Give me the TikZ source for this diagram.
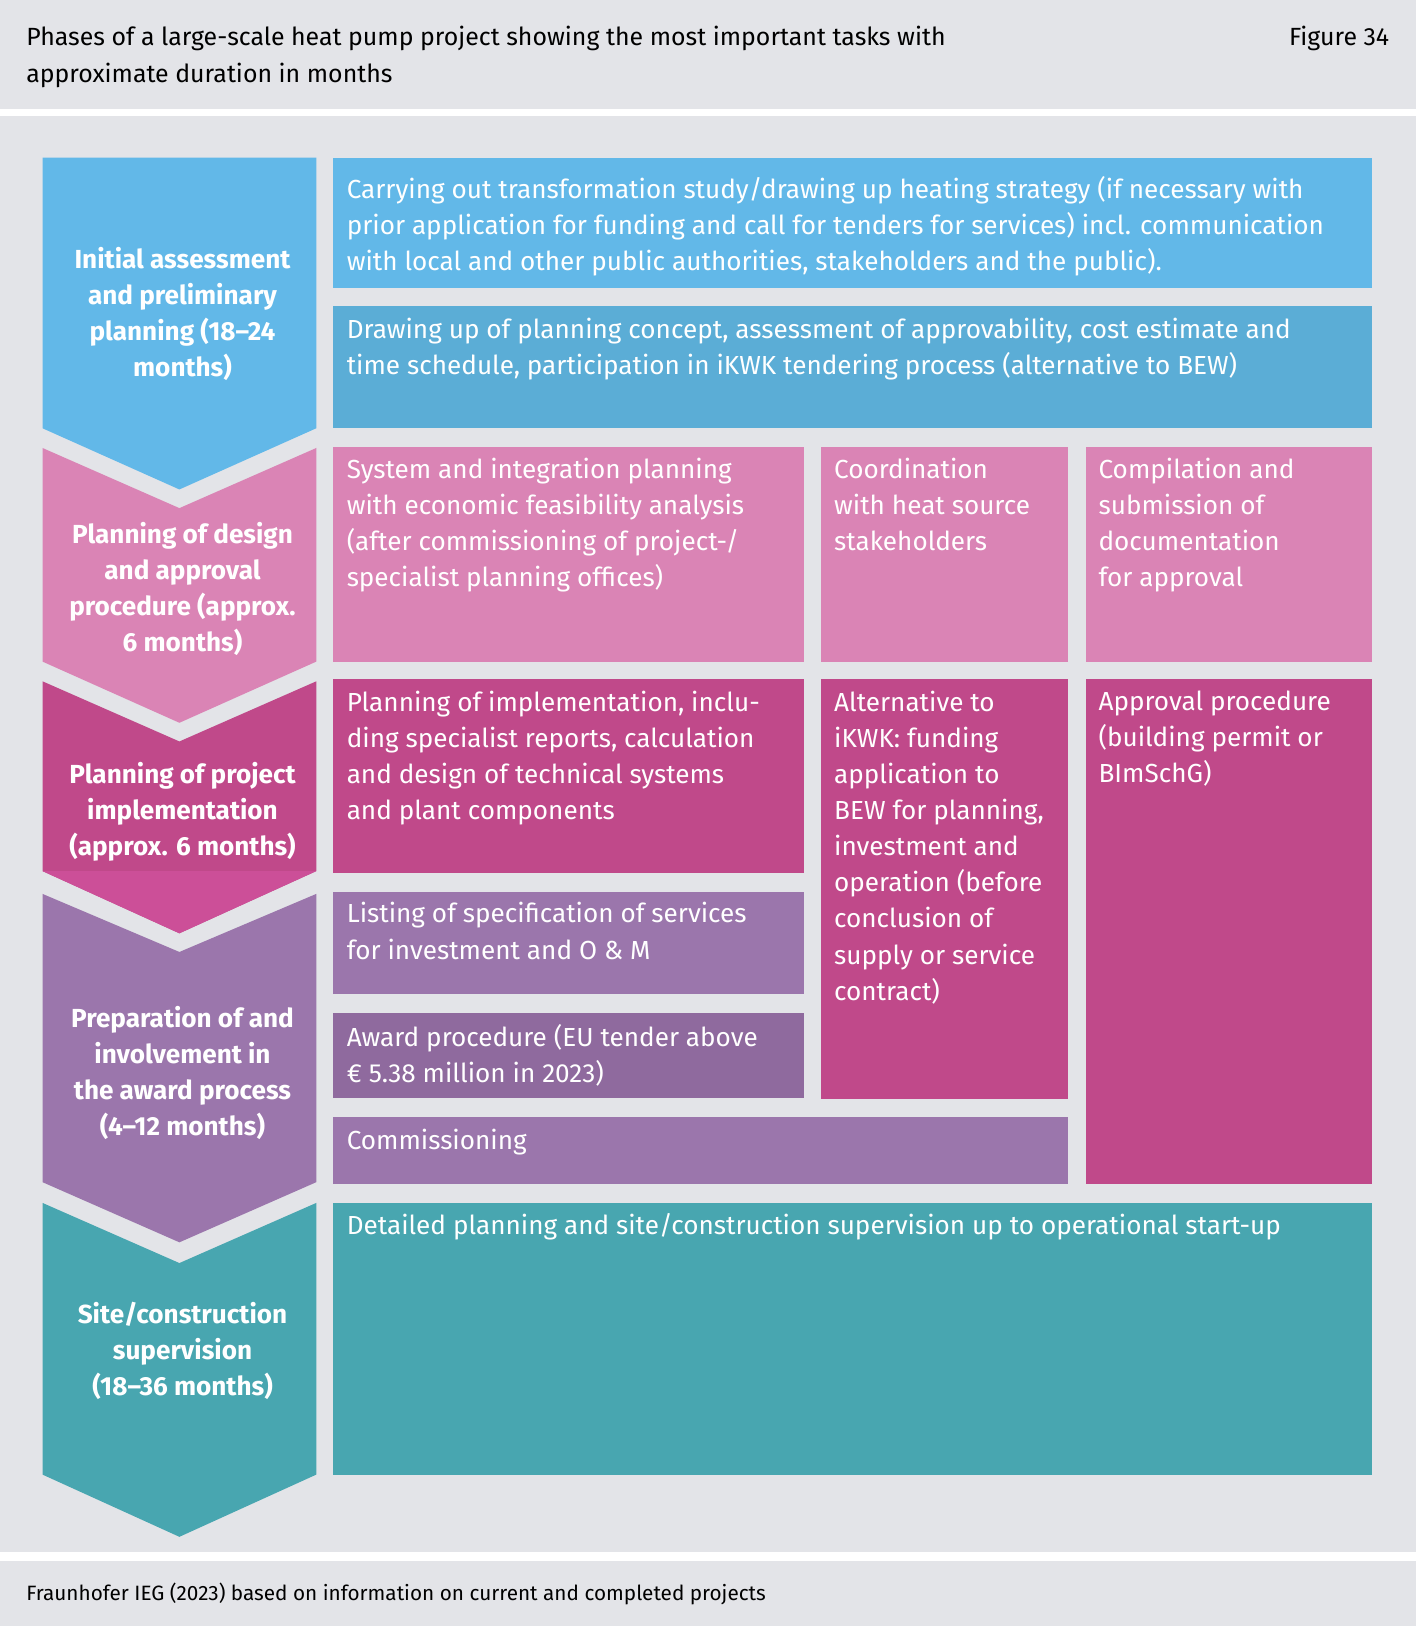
\documentclass[tikz,border=0pt]{standalone}
\usepackage{fontspec}
\setmainfont{Fira Sans}
\begin{document}
\begin{tikzpicture}[x=0.5pt,y=-0.5pt]
\definecolor{bg}{HTML}{E3E4E8}
\definecolor{cblue}{HTML}{62B8E8}\definecolor{cblueb}{HTML}{5BADD6}
\definecolor{cpink}{HTML}{DA84B5}\definecolor{cmag}{HTML}{C0498A}\definecolor{cmagt}{HTML}{CC4F98}
\definecolor{cpur}{HTML}{9B76AC}\definecolor{cpurd}{HTML}{8F6A9E}\definecolor{cteal}{HTML}{48A6B0}
\tikzset{tx/.style={anchor=north west,inner sep=0pt,text=white,align=left,font=\fontsize{12.6pt}{17.4pt}\selectfont},
ph/.style={text=white,align=center,font=\bfseries\fontsize{12.6pt}{17.4pt}\selectfont},
hd/.style={anchor=west,inner sep=0pt,font=\fontsize{12pt}{18pt}\selectfont}}
\useasboundingbox (0,0) rectangle (1365,1568);
\fill[bg] (0,0) rectangle (1365,1568);
\fill[white] (0,105) rectangle (1365,112);
\fill[white] (0,1497) rectangle (1365,1505);
\node[hd] (t1) at (25,37) {Phases of a large-scale heat pump project showing the most important tasks with};
\node[hd] (t2) at (25,73) {approximate duration in months};
\node[hd,anchor=east] (fig) at (1340,37) {Figure 34};
\node[hd,font=\fontsize{10pt}{12pt}\selectfont] (src) at (25,1537) {Fraunhofer IEG (2023) based on information on current and completed projects};
% chevrons
\fill[cblue] (41,152)--(305,152)--(305,413)--(173,472)--(41,413)--cycle;
\fill[cpink] (41,432)--(173,490)--(305,432)--(305,638)--(173,697)--(41,638)--cycle;
\fill[cmag] (41,657)--(173,715)--(305,657)--(305,840)--(173,900)--(41,840)--cycle;
\fill[cmagt] (41,840)--(305,840)--(173,900)--cycle;
\fill[cpur] (41,862)--(173,918)--(305,862)--(305,1140)--(173,1198)--(41,1140)--cycle;
\fill[cteal] (41,1160)--(173,1218)--(305,1160)--(305,1422)--(173,1482)--(41,1422)--cycle;
\node[ph] (p1) at (176,303) {Initial assessment\\and preliminary\\planning (18–24\\months)};
\node[ph] (p2) at (176,568) {Planning of design\\and approval\\procedure (approx.\\6 months)};
\node[ph] (p3) at (176,783) {Planning of project\\implementation\\(approx. 6 months)};
\node[ph] (p4) at (176,1035) {Preparation of and\\involvement in\\the award process\\(4–12 months)};
\node[ph] (p5) at (176,1303) {Site/construction\\supervision\\(18–36 months)};
% boxes
\fill[cblue] (321,152) rectangle (1323,278);
\fill[cblueb] (321,295) rectangle (1323,413);
\fill[cpink] (321,431) rectangle (775,638);
\fill[cpink] (792,431) rectangle (1030,638);
\fill[cpink] (1047,431) rectangle (1323,638);
\fill[cmag] (321,655) rectangle (775,842);
\fill[cmag] (792,655) rectangle (1030,1060);
\fill[cmag] (1047,655) rectangle (1323,1142);
\fill[cpur] (321,860) rectangle (775,959);
\fill[cpurd] (321,977) rectangle (775,1059);
\fill[cpur] (321,1077) rectangle (1030,1142);
\fill[cteal] (321,1160) rectangle (1323,1422);
\node[tx] (b1) at (334,170) {Carrying out transformation study/drawing up heating strategy (if necessary with\\prior application for funding and call for tenders for services) incl. communication\\with local and other public authorities, stakeholders and the public).};
\node[tx] (b2) at (334,306) {Drawing up of planning concept, assessment of approvability, cost estimate and\\time schedule, participation in iKWK tendering process (alternative to BEW)};
\node[tx] (b3) at (334,441) {System and integration planning\\with economic feasibility analysis\\(after commissioning of project-/\\specialist planning offices)};
\node[tx] (b4) at (804,441) {Coordination\\with heat source\\stakeholders};
\node[tx] (b5) at (1059,441) {Compilation and\\submission of\\documentation\\for approval};
\node[tx] (b6) at (334,666) {Planning of implementation, inclu-\\ding specialist reports, calculation\\and design of technical systems\\and plant components};
\node[tx] (b7) at (804,666) {Alternative to\\iKWK: funding\\application to\\BEW for planning,\\investment and\\operation (before\\conclusion of\\supply or service\\contract)};
\node[tx] (b8) at (1059,666) {Approval procedure\\(building permit or\\BImSchG)};
\node[tx] (b9) at (334,870) {Listing of specification of services\\for investment and O \& M};
\node[tx] (b10) at (334,987) {Award procedure (EU tender above\\€ 5.38 million in 2023)};
\node[tx] (b11) at (334,1088) {Commissioning};
\node[tx] (b12) at (334,1170) {Detailed planning and site/construction supervision up to operational start-up};
\end{tikzpicture}
\end{document}
